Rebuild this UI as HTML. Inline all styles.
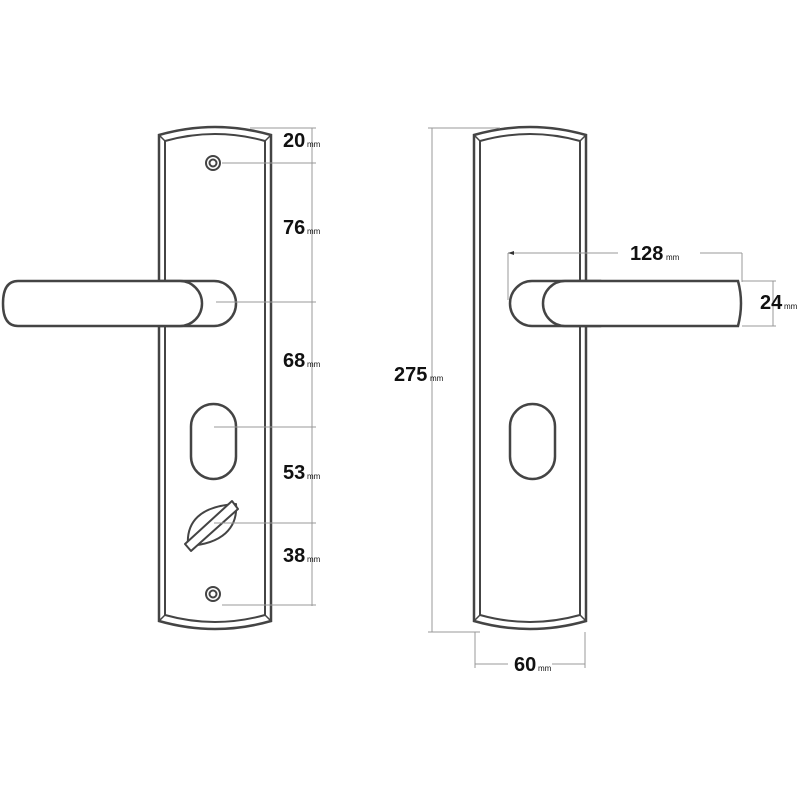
<!DOCTYPE html>
<html><head><style>body{margin:0;background:#fff}svg{display:block}
.t{font-family:"Liberation Sans",sans-serif;font-weight:bold;font-size:20px;fill:#111}
.m{font-family:"Liberation Sans",sans-serif;font-size:8px;fill:#111}</style></head>
<body>
<svg width="800" height="800" viewBox="0 0 800 800" xmlns="http://www.w3.org/2000/svg">
<defs>
<g id="plate">
<path d="M0,8 Q56,-8 112,8 L112,494 Q56,510 0,494 Z" fill="#fff" stroke="#444" stroke-width="2.5"/>
<path d="M6,14 Q56,0 106,14 L106,488 Q56,502 6,488 Z" fill="none" stroke="#444" stroke-width="2"/>
<line x1="0" y1="8" x2="6" y2="14" stroke="#444" stroke-width="1.5"/>
<line x1="112" y1="8" x2="106" y2="14" stroke="#444" stroke-width="1.5"/>
<line x1="0" y1="494" x2="6" y2="488" stroke="#444" stroke-width="1.5"/>
<line x1="112" y1="494" x2="106" y2="488" stroke="#444" stroke-width="1.5"/>
</g>
</defs>
<!-- left plate -->
<use href="#plate" x="159" y="127"/>
<!-- right plate -->
<use href="#plate" x="474" y="127"/>
<!-- left handle -->
<g stroke="#444" stroke-width="2.5" fill="#fff">
<path d="M160,281 H214 A22,22.5 0 0 1 214,326 H160 Z"/>
<path d="M18,281 H180 A22,22.5 0 0 1 180,326 H18 Q3,326 3,303.5 Q3,281 18,281 Z"/>
</g>
<!-- right handle -->
<g stroke="#444" stroke-width="2.5" fill="#fff">
<path d="M600,281 H532 A22,22.5 0 0 0 532,326 H600 Z"/>
<path d="M565,281 H738 Q744,303 738,326 H565 A22,22.5 0 0 1 565,281 Z"/>
</g>
<!-- keyholes -->
<g stroke="#444" stroke-width="2.5" fill="#fff">
<rect x="191" y="404" width="45" height="75" rx="22.5"/>
<rect x="510" y="404" width="45" height="75" rx="22.5"/>
</g>
<!-- screws -->
<g stroke="#444" stroke-width="2" fill="none">
<circle cx="213" cy="163" r="7"/><circle cx="213" cy="163" r="3.5"/>
<circle cx="213" cy="594" r="7"/><circle cx="213" cy="594" r="3.5"/>
</g>
<!-- thumbturn -->
<g stroke="#444" stroke-width="2" fill="#fff" stroke-linejoin="round">
<path d="M188,546 C186,522 200,506 236,504 C238,528 222,544 188,546 Z"/>
<path d="M185,544 L232,501 L238,509 L191,551 Z"/>
</g>
<g fill="none" stroke="#999" stroke-width="1">
<!-- left dims -->
<line x1="312" y1="128" x2="312" y2="606"/>
<line x1="250" y1="128" x2="316" y2="128"/>
<line x1="222" y1="163" x2="316" y2="163"/>
<line x1="216" y1="302" x2="316" y2="302"/>
<line x1="214" y1="427" x2="316" y2="427"/>
<line x1="214" y1="523" x2="316" y2="523"/>
<line x1="222" y1="605" x2="316" y2="605"/>
<!-- right dims -->
<line x1="432" y1="128" x2="432" y2="632"/>
<line x1="428" y1="128" x2="500" y2="128"/>
<line x1="428" y1="632" x2="480" y2="632"/>
<line x1="508" y1="253" x2="618" y2="253"/>
<line x1="700" y1="253" x2="742" y2="253"/>
<line x1="508" y1="253" x2="508" y2="300"/>
<line x1="742" y1="253" x2="742" y2="282"/>
<line x1="742" y1="281" x2="776" y2="281"/>
<line x1="742" y1="326" x2="776" y2="326"/>
<line x1="773" y1="281" x2="773" y2="326"/>
<line x1="475" y1="632" x2="475" y2="668"/>
<line x1="585" y1="632" x2="585" y2="668"/>
<line x1="475" y1="664" x2="508" y2="664"/>
<line x1="552" y1="664" x2="585" y2="664"/>
</g>
<path d="M508,253 l6,-2 v4z" fill="#333"/>
<!-- labels -->
<text class="t" x="283" y="147">20</text><text class="m" x="307" y="147">mm</text>
<text class="t" x="283" y="234">76</text><text class="m" x="307" y="234">mm</text>
<text class="t" x="283" y="367">68</text><text class="m" x="307" y="367">mm</text>
<text class="t" x="283" y="479">53</text><text class="m" x="307" y="479">mm</text>
<text class="t" x="283" y="562">38</text><text class="m" x="307" y="562">mm</text>
<text class="t" x="394" y="381">275</text><text class="m" x="430" y="381">mm</text>
<text class="t" x="630" y="260">128</text><text class="m" x="666" y="260">mm</text>
<text class="t" x="760" y="309">24</text><text class="m" x="784" y="309">mm</text>
<text class="t" x="514" y="671">60</text><text class="m" x="538" y="671">mm</text>
</svg>
</body></html>
